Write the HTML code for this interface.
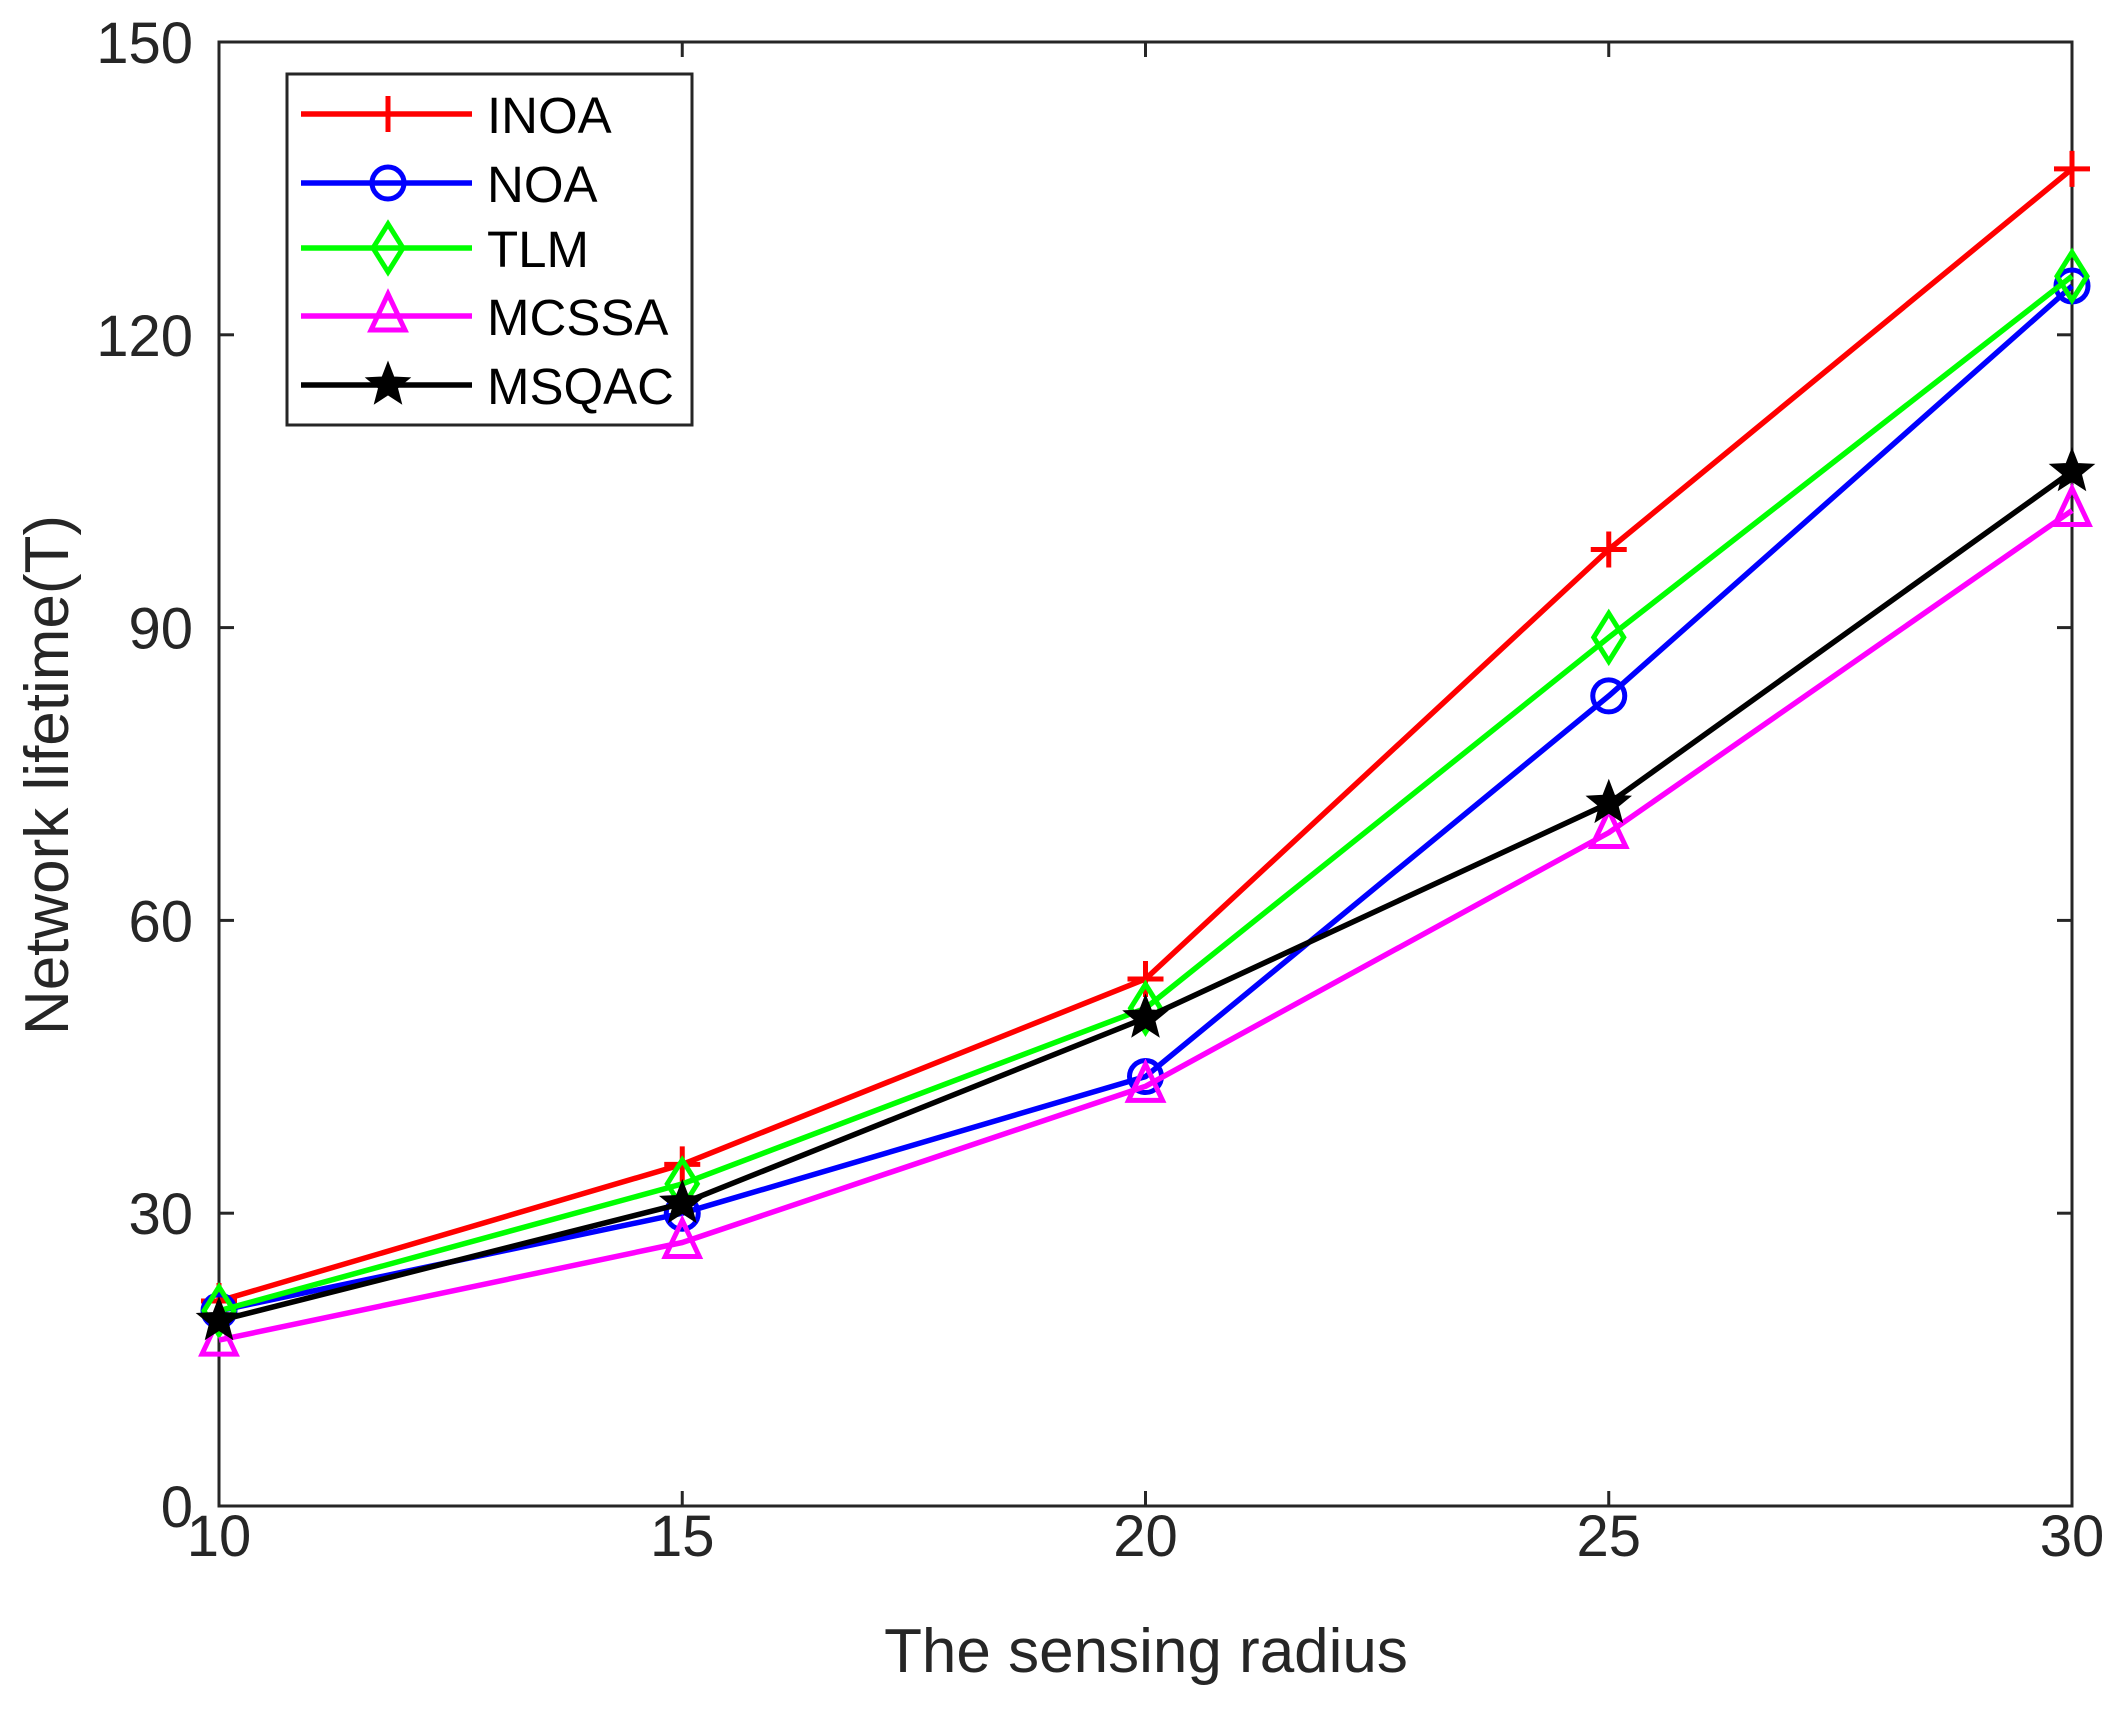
<!DOCTYPE html>
<html><head><meta charset="utf-8"><style>
html,body{margin:0;padding:0;background:#fff;}
svg{display:block;font-family:"Liberation Sans",Arial,sans-serif;}
</style></head><body>
<svg id="chart" width="2114" height="1710" viewBox="0 0 2114 1710">
<rect width="2114" height="1710" fill="#fff"/>
<g id="axes"></g>
<g id="series"></g>
<g id="legend"></g>
</svg>
<script>
const categories = [10, 15, 20, 25, 30];
const inoa = [21, 35, 54, 98, 137];
const noa = [20, 30, 44, 83, 125];
const tlm = [20, 33, 51, 89, 126];
const mcssa = [17, 27, 43, 69, 102];
const msqac = [19, 31, 50, 72, 106];
const xTicks = [10, 15, 20, 25, 30];
const yTicks = [0, 30, 60, 90, 120, 150];
const seriesNames = ["INOA", "NOA", "TLM", "MCSSA", "MSQAC"];

const L = 219, R = 2072, T = 42, B = 1506;
const NS = "http://www.w3.org/2000/svg";
function x(v){ return L + (v - 10) / 20 * (R - L); }
function y(v){ return B - v / 150 * (B - T); }
function mk(tag, attrs, parent){ const e = document.createElementNS(NS, tag); for (const k in attrs) e.setAttribute(k, attrs[k]); parent.appendChild(e); return e; }
const axes = document.getElementById('axes');
const sg = document.getElementById('series');
const lg = document.getElementById('legend');

const frame = mk('rect', {x:L, y:T, width:R-L, height:B-T, fill:'none', stroke:'#262626', 'stroke-width':3}, axes);



xTicks.forEach(v => {
  const t1 = mk('line', {x1:x(v), x2:x(v), y1:B, y2:B-15, stroke:'#262626', 'stroke-width':3}, axes);
  
  
  const t2 = mk('line', {x1:x(v), x2:x(v), y1:T, y2:T+15, stroke:'#262626', 'stroke-width':3}, axes);
  
  
  const tx = mk('text', {x:x(v), y:1556, 'text-anchor':'middle', 'font-size':58, fill:'#262626'}, axes);
  tx.textContent = v;
  
  
});
yTicks.forEach(v => {
  const t1 = mk('line', {x1:L, x2:L+15, y1:y(v), y2:y(v), stroke:'#262626', 'stroke-width':3}, axes);
  
  
  const t2 = mk('line', {x1:R, x2:R-15, y1:y(v), y2:y(v), stroke:'#262626', 'stroke-width':3}, axes);
  
  
  const tx = mk('text', {x:193, y:y(v)+21, 'text-anchor':'end', 'font-size':58, fill:'#262626'}, axes);
  tx.textContent = v;
  
  
});
const xt = mk('text', {x:1146, y:1672, 'text-anchor':'middle', 'font-size':62, fill:'#262626'}, axes);
xt.textContent = 'The sensing radius';


const yt = mk('text', {x:0, y:0, 'text-anchor':'middle', 'font-size':62, fill:'#262626', transform:'translate(68,775) rotate(-90)'}, axes);
yt.textContent = 'Network lifetime(T)';



function marker(type, cx, cy, color, parent){
  const sw = 5; let e;
  if (type === 'plus') {
    e = mk('path', {d:`M${cx-18},${cy}H${cx+18}M${cx},${cy-18}V${cy+18}`, stroke:color, 'stroke-width':sw, fill:'none'}, parent);
  } else if (type === 'circle') {
    e = mk('circle', {cx:cx, cy:cy, r:16, stroke:color, 'stroke-width':sw, fill:'none'}, parent);
  } else if (type === 'diamond') {
    e = mk('path', {d:`M${cx},${cy-24}L${cx+15},${cy}L${cx},${cy+24}L${cx-15},${cy}Z`, stroke:color, 'stroke-width':sw, fill:'none'}, parent);
  } else if (type === 'tri') {
    e = mk('path', {d:`M${cx},${cy-22}L${cx+17},${cy+14}L${cx-17},${cy+14}Z`, stroke:color, 'stroke-width':sw, fill:'none'}, parent);
  } else {
    let p = '';
    for (let i = 0; i < 10; i++) {
      const a = -Math.PI/2 + i*Math.PI/5, rr = i%2 ? 9 : 21;
      p += (i ? 'L' : 'M') + (cx + rr*Math.cos(a)).toFixed(1) + ',' + (cy + rr*Math.sin(a)).toFixed(1);
    }
    e = mk('path', {d:p+'Z', stroke:color, 'stroke-width':2.5, fill:color}, parent);
  }
  return e;
}

const allSeries = [
  {name:'INOA', vals:inoa, color:'#ff0000', m:'plus'},
  {name:'NOA', vals:noa, color:'#0000ff', m:'circle'},
  {name:'TLM', vals:tlm, color:'#00ff00', m:'diamond'},
  {name:'MCSSA', vals:mcssa, color:'#ff00ff', m:'tri'},
  {name:'MSQAC', vals:msqac, color:'#000000', m:'star'}
];
allSeries.forEach(s => {
  const g = mk('g', {}, sg);
  
  
  const pts = s.vals.map((v,i) => x(categories[i]).toFixed(1) + ',' + y(v).toFixed(1)).join(' ');
  const pl = mk('polyline', {points:pts, fill:'none', stroke:s.color, 'stroke-width':5.5, 'stroke-linejoin':'round'}, g);
  
  
  s.vals.forEach((v,i) => {
    const m = marker(s.m, x(categories[i]), y(v), s.color, g);
    
    
  });
});

const lb = mk('rect', {x:287, y:74, width:405, height:351, fill:'#fff', stroke:'#262626', 'stroke-width':3}, lg);


const rowsY = [114, 183, 248, 316, 385];
allSeries.forEach((s,i) => {
  const g = mk('g', {}, lg);
  
  
  mk('line', {x1:301, x2:472, y1:rowsY[i], y2:rowsY[i], stroke:s.color, 'stroke-width':5.5}, g);
  marker(s.m, 388, rowsY[i], s.color, g);
  const t = mk('text', {x:487, y:rowsY[i]+19, 'font-size':51, fill:'#000'}, g);
  t.textContent = seriesNames[i];
  
  
});
</script>
</body></html>
